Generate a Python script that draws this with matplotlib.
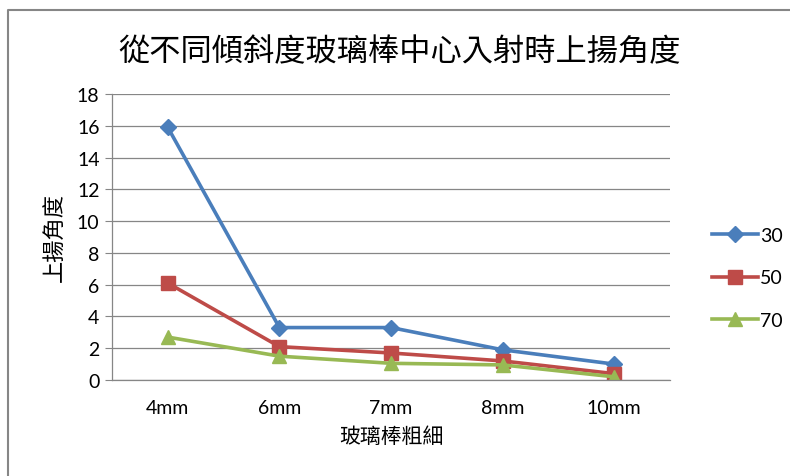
import matplotlib.pyplot as plt
from matplotlib.lines import Line2D

plt.rcParams['font.family'] = ['Lato', 'Noto Sans CJK TC', 'DejaVu Sans']

categories = ['4mm', '6mm', '7mm', '8mm', '10mm']
s30 = [15.9, 3.3, 3.3, 1.9, 1.0]
s50 = [6.1, 2.1, 1.7, 1.2, 0.4]
s70 = [2.7, 1.5, 1.05, 0.95, 0.2]
series_names = ['30', '50', '70']
yticks = list(range(0, 19, 2))

colors = ['#4A7EBB', '#BE4B48', '#98B954']
markers = ['D', 's', '^']
msizes = [8, 10, 10]

fig = plt.figure(figsize=(7.9, 4.77), dpi=100)
ax = fig.add_axes([112 / 790, 96 / 477, 558 / 790, 286 / 477])

x = range(len(categories))
for vals, name, c, m, ms in zip([s30, s50, s70], series_names, colors, markers, msizes):
    ax.plot(x, vals, color=c, lw=2.6, marker=m, ms=ms, label=name)

ax.set_xlim(-0.5, len(categories) - 0.5)
ax.set_ylim(0, 18)
ax.set_yticks(yticks)
ax.set_xticks(list(x))
ax.set_xticklabels(categories)
ax.yaxis.grid(True, color='#868686', lw=0.9)
ax.set_axisbelow(True)
ax.tick_params(axis='y', length=5, color='#868686', labelsize=14, pad=4)
ax.tick_params(axis='x', length=0, labelsize=14, pad=14)
for s in ['top', 'right']:
    ax.spines[s].set_visible(False)
for s in ['left', 'bottom']:
    ax.spines[s].set_color('#868686')
    ax.spines[s].set_linewidth(0.9)

ax.set_ylabel('上揚角度', family=['Noto Sans CJK TC'], fontsize=16, labelpad=8)
ax.set_xlabel('玻璃棒粗細', family=['Noto Sans CJK TC'], fontsize=15, labelpad=6)
fig.text(400 / 790, 1 - 52 / 477, '從不同傾斜度玻璃棒中心入射時上揚角度',
         family=['Noto Sans CJK TC'], fontsize=22.5, ha='center', va='center')

leg = fig.legend(loc='center left', bbox_to_anchor=(694 / 790, 1 - 279 / 477),
                 frameon=False, fontsize=14, handlelength=2.4, handletextpad=0.1,
                 labelspacing=1.3)

# outer chart border
fig.add_artist(Line2D([8 / 790, 8 / 790, 1], [0, 1 - 11 / 477, 1 - 11 / 477],
                      transform=fig.transFigure, color='#868686', lw=1.5))

plt.savefig('out.png', dpi=100)
